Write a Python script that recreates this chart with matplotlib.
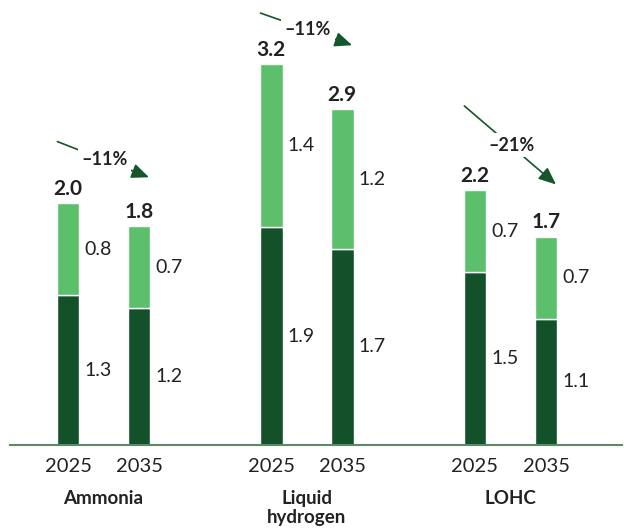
import numpy as np
import matplotlib.pyplot as plt

plt.rcParams['font.family'] = ['Lato', 'DejaVu Sans']

groups = ['Ammonia', 'Liquid\nhydrogen', 'LOHC']
years = ['2025', '2035']
# segment heights as drawn (unrounded), and the rounded labels printed on the chart
bottom_vals = [1.26, 1.15, 1.83, 1.65, 1.45, 1.06]
top_vals = [0.77, 0.69, 1.37, 1.17, 0.69, 0.69]
bottom_labels = ['1.3', '1.2', '1.9', '1.7', '1.5', '1.1']
top_labels = ['0.8', '0.7', '1.4', '1.2', '0.7', '0.7']
total_labels = ['2.0', '1.8', '3.2', '2.9', '2.2', '1.7']
changes = ['–11%', '–11%', '–21%']
# arrow end heights (data units) per group
arrow_y0 = [2.55, 3.63, 2.85]
arrow_y1 = [2.25, 3.36, 2.19]

dark = '#12512A'
light = '#5CBF6C'
txt = '#222222'

x = np.array([0, 1, 2.86, 3.86, 5.73, 6.73])
w = 0.32
tops = np.array(bottom_vals) + np.array(top_vals)

fig = plt.figure(figsize=(6.24, 5.30), dpi=100)
ax = fig.add_axes([10 / 624, 85 / 530, 612 / 624, 445 / 530])

ax.bar(x, bottom_vals, w, color=dark, edgecolor='white', linewidth=1)
ax.bar(x, top_vals, w, bottom=bottom_vals, color=light, edgecolor='white', linewidth=1)

for i in range(len(x)):
    ax.text(x[i] + w / 2 + 0.07, bottom_vals[i] / 2, bottom_labels[i],
            ha='left', va='center', fontsize=14, color=txt)
    ax.text(x[i] + w / 2 + 0.07, bottom_vals[i] + top_vals[i] / 2, top_labels[i],
            ha='left', va='center', fontsize=14, color=txt)
    ax.text(x[i], tops[i] + 0.07, total_labels[i], ha='center', va='baseline',
            fontsize=15, fontweight='bold', color=txt)

for g in range(3):
    xa = x[2 * g] - 0.15
    xb = x[2 * g + 1] + 0.14
    ax.annotate('', xy=(xb, arrow_y1[g]), xytext=(xa, arrow_y0[g]),
                arrowprops=dict(arrowstyle='-|>,head_length=0.75,head_width=0.32',
                                color='#15572B', lw=1.2,
                                mutation_scale=14, shrinkA=0, shrinkB=0))
    ax.text((xa + xb) / 2 + 0.02, (arrow_y0[g] + arrow_y1[g]) / 2, changes[g],
            ha='center', va='center', fontsize=13, fontweight='bold', color=txt,
            bbox=dict(boxstyle='square,pad=0.2', fc='white', ec='none'))
    ax.text((x[2 * g] + x[2 * g + 1]) / 2, -0.38, groups[g], ha='center', va='top',
            fontsize=13.5, fontweight='bold', color=txt, linespacing=1.15)

ax.set_xticks(x)
ax.set_xticklabels(years * 3, fontsize=14.5, color=txt)
ax.tick_params(axis='x', length=0, pad=9)
ax.set_yticks([])
ax.set_xlim(-0.817, 7.80)
ax.set_ylim(0, 3.74)
for s in ['top', 'left', 'right']:
    ax.spines[s].set_visible(False)
ax.spines['bottom'].set_color('#5B8A63')
ax.spines['bottom'].set_linewidth(1.5)

fig.savefig('out.png', dpi=100)
